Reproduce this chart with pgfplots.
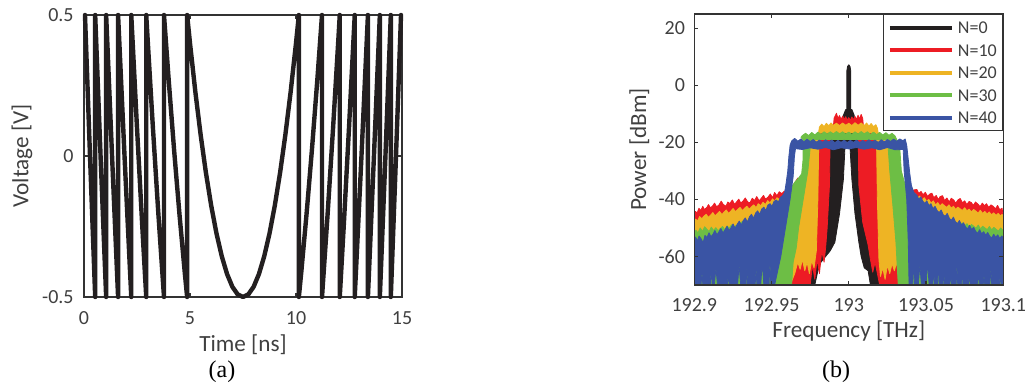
\documentclass[border=0pt]{standalone}
\usepackage{fontspec}
\setmainfont{Carlito}
\newfontfamily\seriffont{Liberation Serif}
\usepackage{pgfplots}
\pgfplotsset{compat=1.18}
\definecolor{axgray}{HTML}{333333}
\definecolor{txtgray}{HTML}{404040}
\definecolor{cK}{HTML}{231F20}
\definecolor{cR}{HTML}{ED1C24}
\definecolor{cO}{HTML}{EEB424}
\definecolor{cG}{HTML}{6DBE45}
\definecolor{cB}{HTML}{3A54A4}
\pgfplotsset{
  mystyle/.style={
    scale only axis, anchor=south west,
    axis line style={draw=axgray, line width=0.6pt},
    every tick/.style={draw=axgray, line width=0.6pt},
    tick align=inside, major tick length=2pt,
    /pgf/number format/assume math mode=true,
    ticklabel style={font=\fontsize{10}{12}\selectfont, text=txtgray, inner sep=0pt},
    label style={font=\fontsize{11.6}{13}\selectfont, text=txtgray},
  }
}
\begin{document}
\begin{tikzpicture}
\useasboundingbox (0,0) rectangle (512.5pt,192pt);
% ---------------- (a) ----------------
\begin{axis}[mystyle, at={(42pt,43.5pt)}, width=159pt, height=141pt,
  xmin=0, xmax=15, ymin=-0.5, ymax=0.5,
  xtick={0,5,10,15}, ytick={-0.5,0,0.5},
  xticklabel style={anchor=center, yshift=-10.5pt},
  yticklabel style={anchor=east, xshift=-5pt},
  xlabel={Time [ns]}, ylabel={Voltage [V]},
  xlabel style={at={([yshift=-24pt]axis description cs:0.5,0)}, anchor=center},
  ylabel style={at={([xshift=-31pt]axis description cs:0,0.5)}, anchor=center},
  clip=false]
\addplot[cK, line width=2.2pt, line join=round, line cap=round] coordinates {
(0.0465,0.5) (0.29,-0.014) (0.5279,-0.5) (0.5279,0.5)
(0.79,-0.017) (1.0451,-0.5) (1.0451,0.5) (1.33,-0.012) (1.6075,-0.5) (1.6075,0.5)
(1.92,-0.014) (2.2296,-0.5) (2.2296,0.5) (2.5,0.1) (2.75,-0.251) (2.9357,-0.5)
(2.9357,0.5) (3.0,0.416) (3.25,0.101) (3.5,-0.196) (3.7732,-0.5) (3.7732,0.5)
(4.0,0.264) (4.25,0.021) (4.5,-0.204) (4.75,-0.411) (4.8648,-0.5) (4.8648,0.5)
(5.0,0.4) (5.25,0.229) (5.5,0.076) (5.75,-0.059) (6.0,-0.176) (6.25,-0.275)
(6.5,-0.356) (6.75,-0.419) (7.0,-0.464) (7.25,-0.491) (7.5,-0.5) (7.75,-0.491)
(8.0,-0.464) (8.25,-0.419) (8.5,-0.356) (8.75,-0.275) (9.0,-0.176) (9.25,-0.059)
(9.5,0.076) (9.75,0.229) (10.0,0.4) (10.1352,0.5) (10.1352,-0.5)
(10.25,-0.411) (10.5,-0.204) (10.75,0.021) (11.0,0.264) (11.2268,0.5) (11.2268,-0.5)
(11.5,-0.196) (11.75,0.101) (12.0,0.416) (12.0643,0.5) (12.0643,-0.5)
(12.25,-0.251) (12.5,0.1) (12.7704,0.5) (12.7704,-0.5)
(13.08,-0.014) (13.3925,0.5) (13.3925,-0.5)
(13.67,-0.012) (13.9549,0.5) (13.9549,-0.5)
(14.21,-0.017) (14.4721,0.5) (14.4721,-0.5)
(14.71,-0.014) (14.9535,0.5)
};
\end{axis}
% ---------------- (b) ----------------
\begin{axis}[mystyle, at={(347.15pt,49.5pt)}, width=154.5pt, height=135.5pt,
  xmin=-100, xmax=100, ymin=-70, ymax=25,
  xtick={-100,-50,0,50,100}, xticklabels={192.9,192.95,193,193.05,193.1},
  ytick={-60,-40,-20,0,20},
  xticklabel style={anchor=center, yshift=-10pt},
  yticklabel style={anchor=east, xshift=-4.5pt},
  xlabel={Frequency [THz]}, ylabel={Power [dBm]},
  xlabel style={at={([yshift=-23pt]axis description cs:0.5,0)}, anchor=center},
  ylabel style={at={([xshift=-27.5pt]axis description cs:0,0.5)}, anchor=center},
  axis on top,
  legend style={at={(1,1)}, anchor=north east, draw=axgray, line width=0.5pt,
    font=\fontsize{9}{10}\selectfont, text=txtgray,
    inner xsep=2pt, inner ysep=2.2pt, row sep=2.2pt, column sep=1pt,
    nodes={inner sep=1pt, text height=6.5pt, text depth=0.5pt}},
  legend cell align=left,
  legend image code/.code={\draw[#1] (0pt,0pt) -- (31pt,0pt);}]
% N=0
\addplot[fill=cK, draw=cK, line width=0.4pt, line join=round, forget plot] coordinates {
(-42,-70) (-41,-64) (-38,-61) (-36,-64) (-34,-62) (-31,-60.5) (-28,-63) (-26,-61)
(-23,-57.5) (-20,-55) (-18,-50) (-16,-40) (-15,-28) (-14,-16) (-4,-14) (-3.5,-10.5)
(-2,-8.5) (-1.3,-8.5) (-1.3,5) (-0.8,6.6) (0,7.2) (0.8,6.6) (1.3,5) (1.3,-8.5)
(2,-8.5) (3.5,-10.5) (4,-14) (15,-16) (16,-28) (17,-42) (18,-52) (21,-56) (24,-60)
(27,-58.5) (30,-62) (32,-60) (34,-63.5) (36,-62) (37,-70)
(14,-70) (12.5,-65) (10,-64) (8,-60) (6.5,-55) (4,-45) (2,-33) (0.8,-22)
(-2.5,-22) (-3.5,-33) (-6,-45) (-9,-55) (-12,-58) (-15,-60) (-18,-62) (-20,-65) (-22,-70)
} -- cycle;
% N=10
\addplot[fill=cR, draw=cR, line width=0.4pt, line join=round, forget plot] coordinates {
(-100,-70) (-100,-46) (-99.3,-44.2) (-98.2,-44.8) (-97,-43.1) (-95.8,-43.9) (-94.5,-42.4)
(-93.6,-43.5) (-92,-42.9) (-90.8,-41.8) (-89.5,-43) (-88,-42.2) (-86.9,-41.3)
(-85.5,-42.6) (-84,-41.9) (-82.6,-40.6) (-81.2,-41.8) (-79.5,-42.4) (-78.3,-40.9)
(-77,-41.5) (-75.4,-40.2) (-74,-41.7) (-72.8,-41) (-71.2,-39.9) (-69.9,-41.3)
(-68.5,-40.6) (-67,-39.5) (-65.4,-40.9) (-64,-41.2) (-62.5,-39.6) (-61,-40.4)
(-59.6,-39) (-58,-40.5) (-56.8,-39.7) (-55.2,-38.6) (-53.9,-39.9) (-52.3,-39.2)
(-50.8,-38.1) (-49.4,-39.4) (-48,-37.6) (-46.5,-38.7) (-45,-37.3) (-43.5,-38) (-42,-37.2)
(-39,-36.5) (-36,-35) (-33,-32.5)
(-31,-33.5) (-28,-31.5) (-25,-28.5) (-22,-25) (-20,-22) (-19,-17) (-17,-16)
(-10,-14.5) (-9.5,-11.5) (-8,-9.8) (-7,-11.6) (-6,-10.6) (-5,-12) (-4,-10.8)
(-3,-11.9) (-2,-11) (-1,-12.2) (0,-11.3) (1,-12.3) (2,-11.1) (3,-12.1) (4,-10.9)
(5,-12) (6,-10.5) (7,-11.8) (8,-10.2) (9,-11.6) (9.5,-14.5) (17,-16) (18.5,-17)
(19,-22) (22,-26) (26,-30) (30,-33) (34,-34.5) (38,-36) (41,-36.8)
(44,-36.5) (45.3,-37.9) (46.8,-37.2) (48,-38.4) (49.6,-37.5) (51,-39) (52.2,-38.2)
(53.8,-37.8) (55,-39.4) (56.6,-38.6) (58,-40.1) (59.1,-39) (60.7,-38.7) (62,-40.4)
(63.5,-39.5) (65,-40.9) (66.3,-39.6) (67.9,-40.2) (69.2,-41.3) (70.8,-40.1)
(72.1,-39.7) (73.6,-41.2) (75,-40.5) (76.4,-41.8) (77.9,-40.7) (79.3,-41.1)
(80.6,-42.1) (82,-40.9) (83.5,-41.6) (85,-42.5) (86.4,-41.3) (87.8,-42.2)
(89.1,-41.5) (90.6,-42.8) (92,-41.9) (93.4,-42.4) (94.9,-43.3) (96.3,-42.1)
(97.7,-43.6) (99.2,-43.1) (100,-46) (100,-70)
(20,-70) (18.5,-66) (17,-62) (15.5,-65.5) (14,-61) (12.5,-56) (9,-48) (6.5,-35) (6,-15)
(-12,-15) (-12.5,-35) (-14,-50) (-15,-57) (-16,-62) (-17.5,-58) (-19,-66)
(-20.5,-61) (-22,-68) (-23.5,-63) (-25,-70)
} -- cycle;
% N=20
\addplot[fill=cO, draw=cO, line width=0.4pt, line join=round, forget plot] coordinates {
(-100,-70) (-100,-48.5) (-99.2,-46.9) (-97.9,-47.6) (-96.6,-46) (-95.1,-46.8)
(-93.8,-45.9) (-92.3,-45.2) (-90.9,-46.3) (-89.4,-45.5) (-88,-44.6) (-86.5,-45.8)
(-85.2,-45) (-83.7,-44.2) (-82.1,-45.3) (-80.8,-44.5) (-79.3,-43.7) (-77.8,-44.9)
(-76.2,-44) (-74.9,-43.2) (-73.3,-44.3) (-71.9,-43.5) (-70.4,-42.8) (-68.8,-43.9)
(-67.5,-43.1) (-66,-42.4) (-64.4,-43.4) (-63,-42.6) (-61.5,-41.9) (-60,-42.9)
(-58.6,-41.5) (-57,-42.2) (-55.5,-41) (-54,-41.8) (-52.5,-40.4) (-51,-41.2)
(-49.4,-39.8) (-48,-40.6) (-46.5,-39.4) (-45,-40) (-42,-39.5)
(-38,-38.2) (-35,-36.5) (-32,-35) (-29.5,-33)
(-27.5,-28) (-26,-22) (-25,-19) (-20,-18)
(-19,-14.6) (-17.5,-13.6) (-16,-14.5) (-14.5,-13.3) (-13,-14.2) (-11.5,-13.2)
(-10,-14) (-8,-13.3) (-6,-14.1) (-4,-13.2) (-2,-14) (0,-13.3) (2,-14.1) (4,-13.1)
(6,-14) (8,-13.2) (10,-14.1) (11.5,-13.2) (13,-14.3) (14.5,-13.4) (16,-14.5)
(17.5,-13.8) (18.5,-15) (19.5,-18) (23,-19) (25.5,-22) (27,-28) (29,-32.5)
(32,-35) (35,-36.5) (38,-37.8) (41,-38.3)
(43,-38) (44.5,-39.5) (46,-38.8) (47.4,-40.2) (48.9,-39.4) (50.3,-40.6) (51.8,-40)
(53.2,-41.3) (54.7,-40.5) (56.1,-41.9) (57.6,-41.1) (59,-42.3) (60.5,-41.5)
(61.9,-42.2) (63.4,-42.8) (64.8,-41.9) (66.3,-43.1) (67.7,-42.4) (69.2,-43.5)
(70.6,-42.7) (72.1,-43.3) (73.5,-43.9) (75,-42.9) (76.4,-44) (77.9,-43.4)
(79.3,-44.4) (80.8,-43.5) (82.2,-44.1) (83.7,-44.8) (85.1,-43.8) (86.6,-44.9)
(88,-44.2) (89.5,-45.1) (90.9,-44.4) (92.4,-45.4) (93.8,-44.7) (95.3,-45.6)
(96.7,-44.9) (98.2,-45.8) (99.3,-45.2) (100,-47) (100,-70)
(33,-70) (31,-62) (29.5,-65) (28,-62.5) (26.5,-66) (25,-63) (23.5,-68) (22,-64)
(20.5,-67) (19.5,-61) (18.5,-40) (18,-22) (17.5,-16.5)
(-18.5,-16.5) (-19.5,-22) (-20,-40) (-21,-58) (-22.5,-64) (-24,-61.5) (-25.5,-66)
(-27,-62) (-28.5,-65) (-30,-61) (-31.5,-64.5) (-33,-62) (-35,-66) (-38,-70)
} -- cycle;
% N=30
\addplot[fill=cG, draw=cG, line width=0.4pt, line join=round, forget plot] coordinates {
(-100,-70) (-100,-53) (-99,-50.8) (-97.6,-51.7) (-96.2,-50) (-94.7,-51.2) (-93.3,-49.6)
(-91.8,-50.5) (-90.4,-51.3) (-89,-49.7) (-87.5,-50.9) (-86.1,-49.9) (-84.6,-51)
(-83.2,-50.2) (-81.7,-49.5) (-80.3,-50.7) (-78.8,-49.3) (-77.4,-50.1) (-75.9,-48.9)
(-74.5,-49.6) (-72,-48.9) (-69,-47.8) (-66,-48)
(-63,-46.6) (-60,-46.5) (-57,-45) (-54,-44.6) (-51,-43.2) (-48,-42.5) (-45,-41)
(-42,-39.5) (-38.5,-36.8) (-35,-34) (-32.5,-32.5) (-30.5,-31) (-29.6,-26)
(-29.6,-22) (-29,-19.5) (-31,-18.2) (-30,-17.6)
(-28,-16.8) (-26,-17.6) (-24,-16.5) (-22,-17.4) (-20,-16.4) (-18,-17.2) (-16,-16.3)
(-14,-17.1) (-12,-16.3) (-10,-17) (-8,-16.2) (-6,-17) (-4,-16.3) (-2,-17.1)
(0,-16.4) (2,-17.2) (4,-16.3) (6,-17.1) (8,-16.2) (10,-17) (12,-16.3) (14,-17.2)
(16,-16.4) (18,-17.3) (20,-16.5) (22,-17.4) (24,-16.6) (26,-17.5) (28,-16.8)
(30,-17.8) (31,-19) (33,-22) (34,-30) (36,-34) (38.5,-36.5) (42,-39) (45,-40.8)
(48,-42.4) (51,-43) (54,-44.5) (57,-45) (60,-46.3) (63,-46.6) (66,-47.8) (69,-48)
(72,-48.8) (73.6,-48.2) (75.1,-49.3) (76.5,-48.5) (78,-49.7) (79.4,-48.8) (80.9,-49.4)
(82.3,-50.1) (83.8,-49) (85.2,-50.3) (86.7,-49.4) (88.1,-50) (89.6,-50.6) (91,-49.5)
(92.5,-50.7) (93.9,-49.8) (95.4,-50.5) (96.8,-51.1) (98.3,-50) (100,-51) (100,-70)
(32,-70) (30.5,-55) (28.5,-42) (26.5,-30) (25.5,-22) (25,-19)
(-24,-19) (-25,-22) (-26.5,-30) (-29.5,-40) (-32.5,-50) (-34,-57) (-36,-62) (-37,-70)
} -- cycle;
% N=40
\addplot[fill=cB, draw=cB, line width=0.4pt, line join=round, forget plot] coordinates {
(-100,-70) (-100,-55) (-99.2,-53.2) (-98,-54.6) (-96.9,-52.8) (-95.5,-53.9) (-94.3,-55.2)
(-93.1,-52.6) (-91.8,-53.4) (-90.5,-51.7) (-89.2,-53.1) (-87.9,-52.2) (-86.7,-50.9)
(-85.3,-52.4) (-84,-51.3) (-82.8,-50.2) (-81.4,-51.8) (-80.1,-50.6) (-78.8,-49.4)
(-77.5,-50.9) (-76.2,-49.9) (-74.9,-48.6) (-73.6,-50.1) (-72.2,-48.7) (-70.9,-47.6)
(-69.6,-49) (-68.3,-47.4) (-67,-46.5) (-65.6,-47.9) (-64.3,-46.1) (-63,-45.2)
(-61.7,-46.6) (-60.3,-44.8) (-59,-44) (-57.7,-45.3) (-56.4,-43.4) (-55,-42.7)
(-53.7,-43.9) (-52.4,-42) (-51,-41.5) (-49.7,-42.4) (-48.4,-40.7) (-47,-40.2)
(-45.6,-40.9) (-44.2,-39.2) (-43,-38.8) (-41.5,-37.5) (-40.5,-34) (-39.5,-30)
(-38.8,-25) (-38,-21) (-37,-19.5)
(-35,-18.6) (-33,-19.6) (-31,-18.8) (-29,-19.8) (-27,-18.9) (-25,-19.7) (-23,-19)
(-21,-19.9) (-19,-19.2) (-17,-20) (-15,-19.1) (-13,-19.9) (-11,-19.2) (-9,-20.1)
(-7,-19.3) (-5,-20) (-3,-19.2) (-1,-20.1) (1,-19.3) (3,-20) (5,-19.2) (7,-20.1)
(9,-19.3) (11,-20) (13,-19.1) (15,-19.9) (17,-19.2) (19,-20) (21,-19.1) (23,-19.8)
(25,-19) (27,-19.7) (29,-18.9) (31,-19.6) (33,-18.8) (35,-19.4) (36.5,-18.8)
(37.5,-21) (38.5,-26) (39.5,-31) (40.5,-35) (42,-37.5)
(44,-38.5) (45.3,-39.9) (46.6,-39.1) (47.9,-40.6) (49.2,-41.4) (50.5,-40.5)
(51.9,-42.2) (53.2,-41.5) (54.5,-43.3) (55.8,-42.4) (57.2,-43.9) (58.5,-44.6)
(59.8,-43.7) (61.1,-45.4) (62.4,-45.9) (63.7,-44.9) (65.1,-46.6) (66.4,-47.3)
(67.7,-46.2) (69,-47.8) (70.3,-48.5) (71.6,-47.4) (73,-49) (74.3,-48.2) (75.6,-49.7)
(76.9,-50.3) (78.2,-49.1) (79.5,-50.6) (80.8,-49.8) (82.1,-51.2) (83.4,-51.9)
(84.7,-50.6) (86,-52.1) (87.3,-51.3) (88.6,-52.6) (89.9,-51.6) (91.2,-52.9)
(92.5,-53.5) (93.8,-52.2) (95.1,-53.3) (96.4,-52.4) (97.7,-53.7) (99,-52.8)
(100,-53.5) (100,-70)
(98.5,-70) (98,-65) (97.5,-70) (92.5,-70) (92,-64) (91.3,-70) (88,-70) (87.5,-66)
(87,-70) (84.5,-70) (84,-63) (83.4,-70) (78.5,-70) (78,-65) (77.4,-70) (74,-70)
(73.5,-64) (73,-70) (70.5,-70) (70,-62) (69.5,-70) (66.5,-70) (66,-65) (65.4,-70)
(62,-70) (61.5,-64) (61,-70) (58.5,-70) (58,-61) (57.4,-70) (55.5,-70) (55,-63)
(54.4,-70) (52,-70) (51,-62) (50,-70) (47,-70) (46,-63) (45,-70) (42.5,-70)
(42,-61) (41.3,-70) (39,-70)
(38.5,-55) (37.5,-40) (35.8,-30) (35.2,-22.5)
(30,-22.6) (25,-21.8) (20,-22.6) (15,-21.9) (10,-22.4) (5,-21.8) (0,-22.3)
(-5,-21.9) (-10,-22.6) (-15,-21.8) (-20,-22.4) (-25,-21.9) (-30,-22.5) (-34.5,-22.2)
(-35.2,-25) (-36,-32) (-38,-40) (-41,-50) (-44,-60) (-48,-70)
(-50.5,-70) (-51,-61) (-51.6,-70) (-55,-70) (-56,-62) (-57,-70) (-59.5,-70)
(-60,-64) (-60.6,-70) (-65.5,-70) (-66,-63) (-66.5,-70) (-70,-70) (-71,-63)
(-72,-70) (-77.5,-70) (-78,-65) (-78.6,-70) (-85,-70) (-86,-64) (-87,-70)
(-88.5,-70) (-89,-62) (-89.6,-70) (-94.5,-70) (-95,-65) (-95.6,-70)
} -- cycle;
\addlegendimage{cK, line width=2pt}\addlegendentry{N=0}
\addlegendimage{cR, line width=2pt}\addlegendentry{N=10}
\addlegendimage{cO, line width=2pt}\addlegendentry{N=20}
\addlegendimage{cG, line width=2pt}\addlegendentry{N=30}
\addlegendimage{cB, line width=2pt}\addlegendentry{N=40}
\end{axis}
\node[font=\seriffont\fontsize{12}{14}\selectfont, text=black] at (111pt,6pt) {(a)};
\node[font=\seriffont\fontsize{12}{14}\selectfont, text=black] at (418pt,6pt) {(b)};
\end{tikzpicture}
\end{document}
